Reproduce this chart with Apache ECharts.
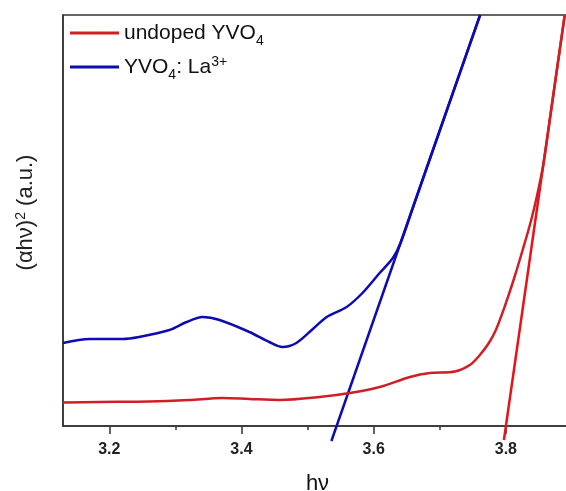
<!DOCTYPE html>
<html>
<head>
<meta charset="utf-8">
<script src="https://cdn.jsdelivr.net/npm/echarts@6/dist/echarts.min.js"></script>
<style>html,body{margin:0;padding:0;background:#fff;}#c{width:566px;height:491px;}</style>
</head>
<body>
<div id="c"></div>
<script>
// Photon energy (hν, eV) and (αhν)^2 (a.u.)
const undopedX = [3.13, 3.185, 3.261, 3.321, 3.371, 3.412, 3.458, 3.518, 3.564, 3.609, 3.655, 3.685, 3.723, 3.7455, 3.7606, 3.7742, 3.7848, 3.7985, 3.8121, 3.8258, 3.8379, 3.847, 3.8568, 3.870, 3.889];
const undopedY = [23.5, 24, 24.5, 26, 28, 27, 26, 29, 33, 39, 49, 53, 54.5, 61, 71, 83, 96, 120, 147, 177, 205, 230, 262, 323, 411];
const dopedX = [3.13, 3.170, 3.220, 3.245, 3.291, 3.317, 3.341, 3.367, 3.412, 3.442, 3.462, 3.483, 3.508, 3.529, 3.559, 3.583, 3.609, 3.629, 3.6406, 3.6601, 3.7002, 3.761];
const dopedY = [83, 87, 87, 89, 96, 104, 109, 106, 94, 84, 79, 83, 97, 109, 119, 133, 153, 168, 183, 220, 296, 411];
// Linear (Tauc) extrapolation lines
const undopedFitX = [3.797, 3.889];
const undopedFitY = [-14, 411];
const dopedFitX = [3.536, 3.761];
const dopedFitY = [-15, 411];
const majorTicks = [3.2, 3.4, 3.6, 3.8];
const minorTicks = [3.3, 3.5, 3.7];
const seriesNames = ['undoped', 'doped'];

const zip = (xs, ys) => xs.map((x, i) => [x, ys[i]]);
const RED = '#cf1f25', RED2 = '#e81218', BLUE = '#0c0cb0';
const FONT = 'Liberation Sans, Arial, sans-serif';

const chart = echarts.init(document.getElementById('c'), null, {renderer: 'canvas'});
chart.setOption({
  animation: false,
  backgroundColor: '#fff',
  grid: {left: 63, top: 15, right: -6, bottom: 65, outerBoundsMode: 'none', containLabel: false,
         show: true, borderColor: '#333', borderWidth: 1.5, backgroundColor: 'transparent'},
  legend: {
    data: seriesNames,
    left: 70, top: 18, orient: 'vertical', itemGap: 4, padding: 0,
    itemWidth: 49, itemHeight: 3, icon: 'rect',
    textStyle: {
      fontFamily: FONT, fontSize: 21, color: '#111', lineHeight: 30,
      rich: {
        n: {fontFamily: FONT, fontSize: 21, lineHeight: 30, color: '#111'},
        sub: {fontFamily: FONT, fontSize: 14, lineHeight: 14, verticalAlign: 'bottom', color: '#111'},
        sup: {fontFamily: FONT, fontSize: 14, lineHeight: 14, verticalAlign: 'top', padding: [3, 0, 0, 0], color: '#111'}
      }
    },
    formatter: n => n === 'undoped' ? '{n|undoped YVO}{sub|4}' : '{n|YVO}{sub|4}{n|: La}{sup|3+}'
  },
  xAxis: [{
    type: 'value', min: 3.13, max: 3.9,
    name: 'hν', nameLocation: 'middle', nameGap: 47,
    nameTextStyle: {fontFamily: FONT, fontSize: 22, color: '#111'},
    axisLine: {show: true, onZero: false, lineStyle: {color: '#333', width: 1.5}},
    axisTick: {show: true, customValues: majorTicks, length: 8, lineStyle: {color: '#333', width: 1.5}},
    axisLabel: {customValues: majorTicks, formatter: v => v.toFixed(1), margin: 16,
      fontFamily: FONT, fontSize: 16, fontWeight: 'bold', color: '#222'},
    splitLine: {show: false}
  }, {
    type: 'value', min: 3.13, max: 3.9, position: 'bottom',
    axisLine: {show: false},
    axisTick: {show: true, customValues: minorTicks, length: 4, lineStyle: {color: '#333', width: 1.5}},
    axisLabel: {show: false},
    splitLine: {show: false}
  }],
  yAxis: {
    type: 'value', min: 0, max: 411,
    name: '{n|(αhν)}{sup|2}{n| (a.u.)}', nameLocation: 'middle', nameRotate: 90, nameGap: 22,
    nameTextStyle: {fontFamily: FONT, fontSize: 22, color: '#222', lineHeight: 30, padding: [0, 0, 0, 16],
      rich: {
        n: {fontFamily: FONT, fontSize: 22, lineHeight: 30, color: '#222'},
        sup: {fontFamily: FONT, fontSize: 14, lineHeight: 14, verticalAlign: 'top', padding: [3, 0, 0, 0], color: '#222'}
      }},
    axisLine: {show: true, onZero: false, lineStyle: {color: '#333', width: 1.5}},
    axisTick: {show: false}, axisLabel: {show: false}, splitLine: {show: false}
  },
  series: [
    {name: 'doped-fit', type: 'line', data: zip(dopedFitX, dopedFitY), showSymbol: false, clip: false,
     lineStyle: {color: BLUE, width: 2.5}, itemStyle: {color: BLUE}, z: 2},
    {name: 'undoped-fit', type: 'line', data: zip(undopedFitX, undopedFitY), showSymbol: false, clip: false,
     lineStyle: {color: RED2, width: 2.5}, itemStyle: {color: RED2}, z: 2},
    {name: 'doped', type: 'line', data: zip(dopedX, dopedY), smooth: 0.3, showSymbol: false,
     lineStyle: {color: BLUE, width: 2.5}, itemStyle: {color: BLUE}, z: 3},
    {name: 'undoped', type: 'line', data: zip(undopedX, undopedY), smooth: 0.3, showSymbol: false,
     lineStyle: {color: RED, width: 2.5}, itemStyle: {color: RED}, z: 3}
  ]
});
</script>
</body>
</html>
